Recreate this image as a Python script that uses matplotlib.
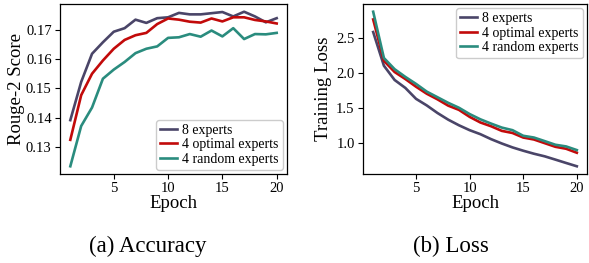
import numpy as np
import matplotlib
matplotlib.use("Agg")
import matplotlib.pyplot as plt

plt.rcParams['font.family'] = ['Liberation Serif', 'DejaVu Serif']
plt.rcParams['mathtext.fontset'] = 'stix'

epochs = list(range(1, 21))
labels = ["8 experts", "4 optimal experts", "4 random experts"]
colors = ["#4a4568", "#c20a0a", "#2a8c7e"]

# Rouge-2 score per epoch
rouge_8 = [0.1392, 0.1522, 0.1618, 0.1657, 0.1693, 0.1705, 0.1734, 0.1723, 0.1739, 0.1742,
           0.1757, 0.1752, 0.1752, 0.1756, 0.1760, 0.1745, 0.1761, 0.1745, 0.1725, 0.1739]
rouge_opt = [0.1325, 0.1477, 0.1550, 0.1595, 0.1635, 0.1665, 0.1681, 0.1689, 0.1719, 0.1738,
             0.1734, 0.1727, 0.1724, 0.1738, 0.1728, 0.1742, 0.1742, 0.1733, 0.1728, 0.1721]
rouge_rand = [0.1235, 0.1372, 0.1435, 0.1533, 0.1564, 0.1590, 0.1620, 0.1635, 0.1643, 0.1672,
              0.1674, 0.1685, 0.1676, 0.1697, 0.1677, 0.1705, 0.1668, 0.1685, 0.1684, 0.1689]

# training loss per epoch
loss_8 = [2.58, 2.10, 1.896, 1.783, 1.627, 1.533, 1.425, 1.33, 1.25, 1.18,
          1.123, 1.052, 0.99, 0.934, 0.887, 0.844, 0.807, 0.76, 0.712, 0.665]
loss_opt = [2.76, 2.17, 2.01, 1.91, 1.80, 1.70, 1.62, 1.53, 1.47, 1.37,
            1.29, 1.236, 1.17, 1.14, 1.075, 1.047, 0.995, 0.943, 0.915, 0.858]
loss_rand = [2.87, 2.21, 2.05, 1.94, 1.84, 1.73, 1.65, 1.57, 1.50, 1.41,
             1.335, 1.274, 1.217, 1.18, 1.10, 1.075, 1.024, 0.972, 0.948, 0.896]

fig = plt.figure(figsize=(5.89, 2.63), dpi=100)
W, H = 589, 263
ax1 = fig.add_axes([60 / W, 1 - 174 / H, 227 / W, 170 / H])
ax2 = fig.add_axes([363 / W, 1 - 174 / H, 224 / W, 170 / H])

for ys, lab, c in zip([rouge_8, rouge_opt, rouge_rand], labels, colors):
    ax1.plot(epochs, ys, color=c, lw=1.9, label=lab)
for ys, lab, c in zip([loss_8, loss_opt, loss_rand], labels, colors):
    ax2.plot(epochs, ys, color=c, lw=1.9, label=lab)

ax1.set_yticks([0.13, 0.14, 0.15, 0.16, 0.17])
ax2.set_yticks([1.0, 1.5, 2.0, 2.5])
for ax in (ax1, ax2):
    ax.set_xticks([5, 10, 15, 20])
    ax.tick_params(labelsize=10.5, length=3.5, width=0.8, pad=2.5)
    ax.set_xlabel("Epoch", fontsize=13.5, labelpad=0)
    for s in ax.spines.values():
        s.set_linewidth(0.9)

ax1.set_ylabel("Rouge-2 Score", fontsize=13.5, labelpad=1)
ax2.set_ylabel("Training Loss", fontsize=13.5, labelpad=3)

leg_kw = dict(fontsize=10, handlelength=1.2, handletextpad=0.4, labelspacing=0.1,
              borderpad=0.3, borderaxespad=0.3, fancybox=True, framealpha=1)
ax1.legend(loc="lower right", **leg_kw)
ax2.legend(loc="upper right", **leg_kw)

fig.text(148 / W, 1 - 246 / H, "(a) Accuracy", fontsize=16.5, ha="center", va="center")
fig.text(451 / W, 1 - 246 / H, "(b) Loss", fontsize=16.5, ha="center", va="center")

fig.savefig("out.png", dpi=100)
